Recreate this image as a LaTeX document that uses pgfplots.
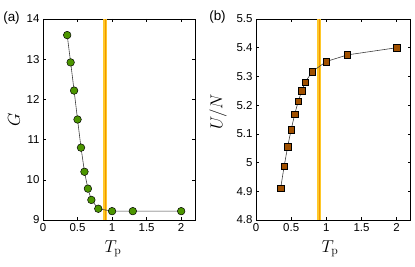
\documentclass[border=0pt]{standalone}
\usepackage{pgfplots}
\pgfplotsset{compat=1.18}
\usepackage[no-math]{fontspec}
\setmainfont{Liberation Sans}
\definecolor{gfill}{RGB}{76,150,0}
\definecolor{bfill}{RGB}{160,80,0}
\definecolor{vouter}{RGB}{255,200,40}
\definecolor{vinner}{RGB}{240,150,0}
\pgfplotsset{
  common/.style={
    scale only axis,
    tick align=inside,
    major tick length=3bp,
    axis line style={line width=0.5bp},
    every tick/.style={line width=0.5bp,black},
    tick label style={font=\fontsize{11.5}{13}\selectfont},
    /pgf/number format/assume math mode=true,
    xmin=0, xmax=2.2,
    xtick={0,0.5,1,1.5,2},
    xticklabels={0,0.5,1,1.5,2},
    height=201bp,
    clip=false,
  }
}
\begin{document}
\begin{tikzpicture}[x=1bp,y=1bp]
\useasboundingbox (0,0) rectangle (415,267);
\begin{axis}[common,
  at={(43bp,47bp)}, anchor=south west,
  width=152bp,
  ymin=9, ymax=14, ytick={9,10,11,12,13,14},
  yticklabels={9,10,11,12,13,14},
]
\addplot[vouter, line width=4bp, forget plot] coordinates {(0.9,9) (0.9,14)};
\addplot[vinner, line width=1.2bp, forget plot] coordinates {(0.9,9) (0.9,14)};
\addplot[black!75, line width=0.6bp, mark=*, mark size=3.8bp,
  mark options={fill=gfill, draw=black, line width=0.5bp}] coordinates {
  (0.35,13.60) (0.40,12.92) (0.45,12.22) (0.50,11.50) (0.55,10.80)
  (0.60,10.20) (0.65,9.78) (0.70,9.50) (0.80,9.28) (1.00,9.22)
  (1.30,9.22) (2.00,9.22)};
\end{axis}
\begin{axis}[common,
  at={(256bp,47bp)}, anchor=south west,
  width=154.7bp,
  ymin=4.8, ymax=5.5, ytick={4.8,4.9,5,5.1,5.2,5.3,5.4,5.5},
  yticklabels={4.8,4.9,5,5.1,5.2,5.3,5.4,5.5},
]
\addplot[vouter, line width=4bp, forget plot] coordinates {(0.9,4.8) (0.9,5.5)};
\addplot[vinner, line width=1.2bp, forget plot] coordinates {(0.9,4.8) (0.9,5.5)};
\addplot[black!75, line width=0.6bp, mark=square*, mark size=3.3bp,
  mark options={fill=bfill, draw=black, line width=0.5bp}] coordinates {
  (0.35,4.910) (0.40,4.987) (0.45,5.055) (0.50,5.115) (0.55,5.168)
  (0.60,5.213) (0.65,5.250) (0.70,5.280) (0.80,5.317) (1.00,5.352)
  (1.30,5.375) (2.00,5.400)};
\end{axis}
\node[font=\fontsize{13.5}{15}\selectfont] at (11.5,249) {(a)};
\node[font=\fontsize{13.5}{15}\selectfont] at (217.5,250) {(b)};
\node[rotate=90, font=\fontsize{18}{20}\selectfont] at (14,147) {$G$};
\node[rotate=90, font=\fontsize{18}{20}\selectfont] at (218,155) {$U/N$};
\node[font=\fontsize{18}{20}\selectfont, anchor=base] at (113,15) {$T_{\mathrm{p}}$};
\node[font=\fontsize{18}{20}\selectfont, anchor=base] at (330,15) {$T_{\mathrm{p}}$};
\end{tikzpicture}
\end{document}
